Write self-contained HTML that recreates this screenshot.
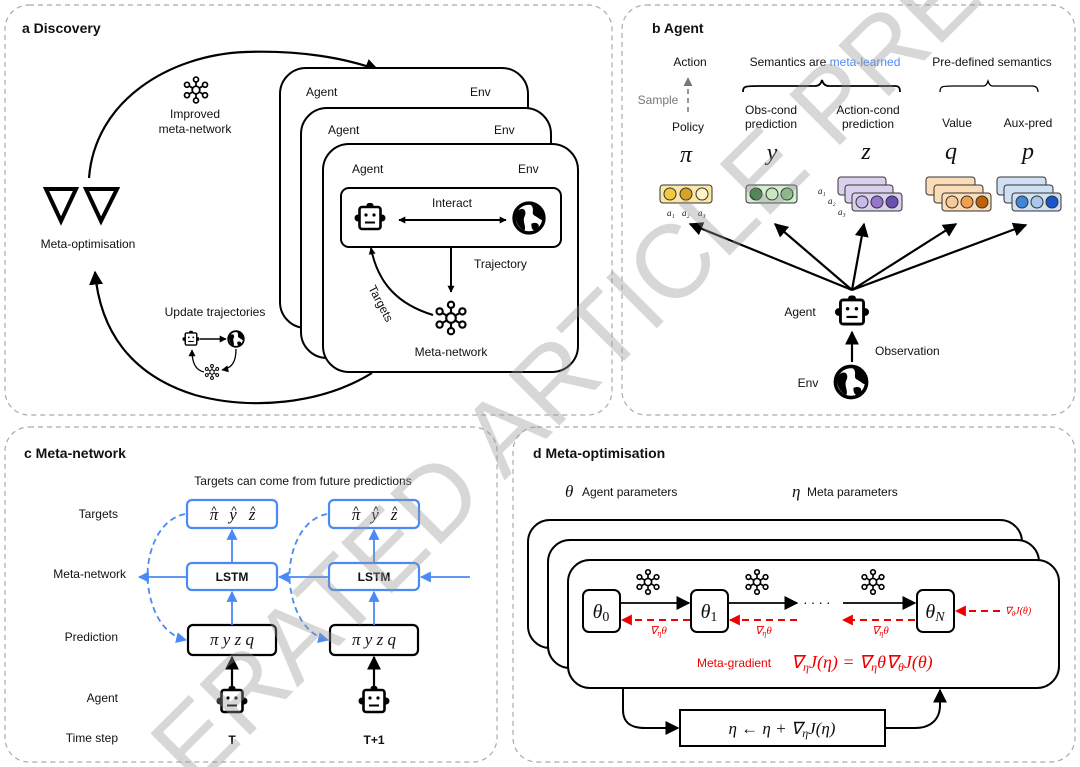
<!DOCTYPE html>
<html><head><meta charset="utf-8"><style>
html,body{margin:0;padding:0;background:#fff;width:1080px;height:767px;overflow:hidden;}
svg{display:block;overflow:hidden;}
text{font-family:"Liberation Sans",sans-serif;fill:#111;}
.m{font-family:"Liberation Serif",serif;font-style:italic;}
.lab{font-size:12px;}
.t{font-size:14px;font-weight:bold;}
</style></head><body>
<svg width="1080" height="767" viewBox="0 0 1080 767" xmlns="http://www.w3.org/2000/svg">
<defs>
<marker id="ab" viewBox="0 0 10 10" refX="9" refY="5" markerWidth="7" markerHeight="7" orient="auto-start-reverse" markerUnits="userSpaceOnUse"><path d="M0,0 L10,5 L0,10Z" fill="#000"/></marker>
<marker id="abL" viewBox="0 0 10 10" refX="9" refY="5" markerWidth="14" markerHeight="14" orient="auto-start-reverse" markerUnits="userSpaceOnUse"><path d="M0,0 L10,5 L0,10Z" fill="#000"/></marker>
<marker id="abu" viewBox="0 0 10 10" refX="9" refY="5" markerWidth="11" markerHeight="11" orient="auto" markerUnits="userSpaceOnUse"><path d="M0,0 L10,5 L0,10Z" fill="#4a8af4"/></marker>
<marker id="ar" viewBox="0 0 10 10" refX="9" refY="5" markerWidth="11" markerHeight="11" orient="auto" markerUnits="userSpaceOnUse"><path d="M0,0 L10,5 L0,10Z" fill="#e00"/></marker>
<marker id="ag" viewBox="0 0 10 10" refX="9" refY="5" markerWidth="9" markerHeight="9" orient="auto" markerUnits="userSpaceOnUse"><path d="M0,0 L10,5 L0,10Z" fill="#777"/></marker>
<g id="robot">
<circle cx="-12" cy="0" r="3.5" fill="#000"/><circle cx="12" cy="0" r="3.5" fill="#000"/>
<rect x="-3.5" y="-15" width="7" height="5" rx="2.5" fill="#000"/>
<rect x="-10.5" y="-11" width="21" height="22" rx="2.5" fill="#fff" stroke="#000" stroke-width="2.6"/>
<circle cx="-4" cy="-3" r="1.6" fill="#000"/><circle cx="4" cy="-3" r="1.6" fill="#000"/>
<line x1="-5" y1="4.5" x2="5" y2="4.5" stroke="#000" stroke-width="2"/>
</g>
<g id="globe">
<circle r="13" fill="#fff" stroke="#000" stroke-width="3"/>
<path d="M-11,-5 C-6,-11 -1,-7 -4,-1 C-6,3 -2,7 -4,11 C-10,8 -13,1 -11,-5Z" fill="#000"/>
<path d="M1,-12 C6,-8 1,-4 5,-2 C9,0 11,3 12,1 C13,-6 8,-11 1,-12Z" fill="#000"/>
<path d="M2,5 C6,3 10,5 8,9 C6,12 2,12 2,5Z" fill="#000"/>
</g>
<g id="mnet" fill="#fff" stroke="#000" stroke-width="1.8">
<line x1="0" y1="0" x2="0" y2="-11"/><line x1="0" y1="0" x2="9.5" y2="-5.5"/><line x1="0" y1="0" x2="9.5" y2="5.5"/><line x1="0" y1="0" x2="0" y2="11"/><line x1="0" y1="0" x2="-9.5" y2="5.5"/><line x1="0" y1="0" x2="-9.5" y2="-5.5"/>
<circle r="4"/><circle cx="0" cy="-11" r="2.6"/><circle cx="9.5" cy="-5.5" r="2.6"/><circle cx="9.5" cy="5.5" r="2.6"/><circle cx="0" cy="11" r="2.6"/><circle cx="-9.5" cy="5.5" r="2.6"/><circle cx="-9.5" cy="-5.5" r="2.6"/>
</g>
</defs>

<g fill="none" stroke="#aaa" stroke-width="1.2" stroke-dasharray="5,4">
<rect x="5" y="5" width="607" height="410" rx="24"/>
<rect x="622" y="5" width="453" height="410" rx="24"/>
<rect x="5" y="427" width="492" height="335" rx="24"/>
<rect x="513" y="427" width="562" height="335" rx="24"/>
</g>

<!-- ===== Panel a ===== -->
<text x="22" y="33" class="t">a  Discovery</text>
<path d="M89,178 C95,100 170,55 245,52 C300,50 345,58 378,70" fill="none" stroke="#000" stroke-width="2.2" marker-end="url(#abL)"/>
<path d="M372,373 C320,405 250,410 195,395 C130,375 100,330 95,272" fill="none" stroke="#000" stroke-width="2.2" marker-end="url(#abL)"/>
<g fill="#fff" stroke="#000" stroke-width="4" stroke-linejoin="miter">
<polygon points="46,189 76,189 61,221"/><polygon points="86,189 117,189 101,221"/>
</g>
<text x="88" y="248" class="lab" text-anchor="middle">Meta-optimisation</text>
<use href="#mnet" transform="translate(196,90) scale(0.95)"/>
<text x="195" y="118" class="lab" text-anchor="middle">Improved</text>
<text x="195" y="133" class="lab" text-anchor="middle">meta-network</text>
<text x="215" y="316" class="lab" text-anchor="middle">Update trajectories</text>
<use href="#robot" transform="translate(191,339) scale(0.55)"/>
<line x1="200" y1="339" x2="226" y2="339" stroke="#000" stroke-width="1.5" marker-end="url(#ab)"/>
<use href="#globe" transform="translate(236,339) scale(0.6)"/>
<use href="#mnet" transform="translate(212,372) scale(0.55)"/>
<path d="M204,372 C195,370 192,362 192,350" fill="none" stroke="#000" stroke-width="1.3" marker-end="url(#ab)"/>
<path d="M236,349 C236,362 232,368 222,370" fill="none" stroke="#000" stroke-width="1.3" marker-end="url(#ab)"/>

<g fill="#fff" stroke="#000" stroke-width="2">
<rect x="280" y="68" width="248" height="260" rx="26"/>
<rect x="301" y="108" width="250" height="250" rx="26"/>
<rect x="323" y="144" width="255" height="228" rx="26"/>
</g>
<text x="306" y="96" class="lab">Agent</text><text x="470" y="96" class="lab">Env</text>
<text x="328" y="134" class="lab">Agent</text><text x="494" y="134" class="lab">Env</text>
<text x="352" y="173" class="lab">Agent</text><text x="518" y="173" class="lab">Env</text>
<rect x="341" y="188" width="220" height="59" rx="8" fill="#fff" stroke="#000" stroke-width="2"/>
<use href="#robot" transform="translate(370,218)"/>
<use href="#globe" transform="translate(529,218) scale(1.15)"/>
<line x1="399" y1="220" x2="506" y2="220" stroke="#000" stroke-width="2" marker-start="url(#ab)" marker-end="url(#ab)"/>
<text x="452" y="207" class="lab" text-anchor="middle">Interact</text>
<line x1="451" y1="247" x2="451" y2="292" stroke="#000" stroke-width="2" marker-end="url(#ab)"/>
<text x="474" y="268" class="lab">Trajectory</text>
<use href="#mnet" transform="translate(451,318) scale(1.2)"/>
<path d="M433,315 C400,305 378,285 371,248" fill="none" stroke="#000" stroke-width="2" marker-end="url(#ab)"/>
<text transform="translate(368,288) rotate(62)" class="lab">Targets</text>
<text x="451" y="356" class="lab" text-anchor="middle">Meta-network</text>

<!-- ===== Panel b ===== -->
<text x="652" y="33" class="t">b  Agent</text>
<text x="690" y="66" class="lab" text-anchor="middle">Action</text>
<text x="825" y="66" class="lab" text-anchor="middle">Semantics are <tspan style="fill:#4a8af4">meta-learned</tspan></text>
<text x="992" y="66" class="lab" text-anchor="middle">Pre-defined semantics</text>
<path d="M743,92 C743,86 745,86 760,86 L815,86 C819,86 821,84 822,80 C823,84 825,86 829,86 L895,86 C899,86 900,88 900,92" fill="none" stroke="#000" stroke-width="1.8"/>
<path d="M940,92 C940,86 942,86 955,86 L983,86 C986,86 987,84 988,81 C989,84 990,86 993,86 L1032,86 C1036,86 1038,88 1038,92" fill="none" stroke="#000" stroke-width="1.3"/>
<line x1="688" y1="112" x2="688" y2="78" stroke="#777" stroke-width="1.5" stroke-dasharray="5,4" marker-end="url(#ag)"/>
<text x="658" y="104" class="lab" text-anchor="middle" style="fill:#777">Sample</text>
<text x="688" y="131" class="lab" text-anchor="middle">Policy</text>
<text x="771" y="114" class="lab" text-anchor="middle">Obs-cond</text><text x="771" y="128" class="lab" text-anchor="middle">prediction</text>
<text x="868" y="114" class="lab" text-anchor="middle">Action-cond</text><text x="868" y="128" class="lab" text-anchor="middle">prediction</text>
<text x="957" y="127" class="lab" text-anchor="middle">Value</text>
<text x="1028" y="127" class="lab" text-anchor="middle">Aux-pred</text>
<g font-size="24" text-anchor="middle">
<text x="686" y="162" class="m">π</text><text x="772" y="160" class="m">y</text><text x="866" y="159" class="m">z</text><text x="951" y="159" class="m">q</text><text x="1028" y="159" class="m">p</text>
</g>
<g stroke="#333" stroke-width="1">
<rect x="660" y="185" width="52" height="18" rx="3" fill="#fbe6a6"/>
<circle cx="670" cy="194" r="6" fill="#f5c842"/><circle cx="686" cy="194" r="6" fill="#d4a521"/><circle cx="702" cy="194" r="6" fill="#fff3c8"/>
<rect x="746" y="185" width="51" height="18" rx="3" fill="#d4ecd0"/>
<circle cx="756" cy="194" r="6" fill="#2e7d32"/><circle cx="772" cy="194" r="6" fill="#c8e6c0"/><circle cx="787" cy="194" r="6" fill="#8bc98a"/>
<rect x="838" y="177" width="48" height="18" rx="3" fill="#d9d0ee"/>
<rect x="845" y="185" width="48" height="18" rx="3" fill="#d9d0ee"/>
<rect x="852" y="193" width="50" height="18" rx="3" fill="#d9d0ee"/>
<circle cx="862" cy="202" r="6" fill="#c8b8ec"/><circle cx="877" cy="202" r="6" fill="#9575cd"/><circle cx="892" cy="202" r="6" fill="#6a4fb0"/>
<rect x="926" y="177" width="49" height="18" rx="3" fill="#fbdcb8"/>
<rect x="934" y="185" width="49" height="18" rx="3" fill="#fbdcb8"/>
<rect x="942" y="193" width="49" height="18" rx="3" fill="#fbdcb8"/>
<circle cx="952" cy="202" r="6" fill="#f8c898"/><circle cx="967" cy="202" r="6" fill="#f0a050"/><circle cx="982" cy="202" r="6" fill="#c0620a"/>
<rect x="997" y="177" width="49" height="18" rx="3" fill="#cfe0f5"/>
<rect x="1004" y="185" width="49" height="18" rx="3" fill="#cfe0f5"/>
<rect x="1012" y="193" width="49" height="18" rx="3" fill="#cfe0f5"/>
<circle cx="1022" cy="202" r="6" fill="#3f86d6"/><circle cx="1037" cy="202" r="6" fill="#a8c8ee"/><circle cx="1052" cy="202" r="6" fill="#1a56c9"/>
</g>
<text x="667" y="216" class="m" font-size="9">a₁</text><text x="682" y="216" class="m" font-size="9">a₂</text><text x="698" y="216" class="m" font-size="9">a₃</text>
<text x="818" y="194" class="m" font-size="9">a₁</text><text x="828" y="204" class="m" font-size="9">a₂</text><text x="838" y="215" class="m" font-size="9">a₃</text>
<g stroke="#000" stroke-width="2.2" marker-end="url(#abL)">
<line x1="852" y1="290" x2="690" y2="224"/>
<line x1="852" y1="290" x2="775" y2="224"/>
<line x1="852" y1="290" x2="864" y2="224"/>
<line x1="852" y1="290" x2="956" y2="224"/>
<line x1="852" y1="290" x2="1026" y2="225"/>
</g>
<use href="#robot" transform="translate(852,312) scale(1.1)"/>
<text x="800" y="316" class="lab" text-anchor="middle">Agent</text>
<line x1="852" y1="362" x2="852" y2="332" stroke="#000" stroke-width="2.2" marker-end="url(#abL)"/>
<text x="875" y="355" class="lab">Observation</text>
<use href="#globe" transform="translate(851,382) scale(1.2)"/>
<text x="808" y="387" class="lab" text-anchor="middle">Env</text>

<!-- ===== Panel c ===== -->
<text x="24" y="458" class="t">c  Meta-network</text>
<text x="303" y="485" class="lab" text-anchor="middle">Targets can come from future predictions</text>
<g text-anchor="end">
<text x="118" y="518" class="lab">Targets</text>
<text x="126" y="578" class="lab">Meta-network</text>
<text x="118" y="641" class="lab">Prediction</text>
<text x="118" y="702" class="lab">Agent</text>
<text x="118" y="742" class="lab">Time step</text>
</g>
<g fill="#fff" stroke="#4a8af4" stroke-width="2.2">
<rect x="187" y="500" width="90" height="28" rx="5"/><rect x="329" y="500" width="90" height="28" rx="5"/>
<rect x="187" y="563" width="90" height="27" rx="5"/><rect x="329" y="563" width="90" height="27" rx="5"/>
</g>
<g fill="#fff" stroke="#000" stroke-width="2.2">
<rect x="188" y="625" width="88" height="30" rx="5"/><rect x="330" y="625" width="88" height="30" rx="5"/>
</g>
<g font-size="17" text-anchor="middle">
<text x="214" y="520" class="m">π</text><text x="233" y="520" class="m">y</text><text x="252" y="520" class="m">z</text>
<text x="356" y="520" class="m">π</text><text x="375" y="520" class="m">y</text><text x="394" y="520" class="m">z</text>
<text x="232" y="645" class="m">π  y  z  q</text><text x="374" y="645" class="m">π  y  z  q</text>
</g>
<g font-size="11" text-anchor="middle" font-family="Liberation Serif">
<text x="214" y="514">^</text><text x="234" y="514">^</text><text x="253" y="514">^</text>
<text x="356" y="514">^</text><text x="376" y="514">^</text><text x="395" y="514">^</text>
</g>
<text x="232" y="581" class="lab" text-anchor="middle" font-weight="bold">LSTM</text>
<text x="374" y="581" class="lab" text-anchor="middle" font-weight="bold">LSTM</text>
<g stroke="#4a8af4" stroke-width="1.8" marker-end="url(#abu)">
<line x1="232" y1="563" x2="232" y2="530"/><line x1="374" y1="563" x2="374" y2="530"/>
<line x1="232" y1="625" x2="232" y2="592"/><line x1="374" y1="625" x2="374" y2="592"/>
<line x1="187" y1="577" x2="139" y2="577"/><line x1="329" y1="577" x2="279" y2="577"/><line x1="470" y1="577" x2="421" y2="577"/>
</g>
<g fill="none" stroke="#4a8af4" stroke-width="1.8" stroke-dasharray="6,4" marker-end="url(#abu)">
<path d="M185,514 C155,520 145,560 148,585 C152,615 165,635 186,640"/>
<path d="M327,514 C297,520 287,560 290,585 C294,615 307,635 328,640"/>
</g>
<line x1="232" y1="688" x2="232" y2="657" stroke="#000" stroke-width="2.2" marker-end="url(#abL)"/>
<line x1="374" y1="688" x2="374" y2="657" stroke="#000" stroke-width="2.2" marker-end="url(#abL)"/>
<use href="#robot" transform="translate(232,701)"/><use href="#robot" transform="translate(374,701)"/>
<text x="232" y="744" class="lab" text-anchor="middle" font-weight="bold">T</text>
<text x="374" y="744" class="lab" text-anchor="middle" font-weight="bold">T+1</text>

<!-- ===== Panel d ===== -->
<text x="533" y="458" class="t">d  Meta-optimisation</text>
<text x="565" y="497" class="m" font-size="17">θ</text><text x="582" y="496" class="lab">Agent parameters</text>
<text x="792" y="497" class="m" font-size="17">η</text><text x="807" y="496" class="lab">Meta parameters</text>
<g fill="#fff" stroke="#000" stroke-width="2">
<rect x="528" y="520" width="494" height="128" rx="22"/>
<rect x="548" y="540" width="491" height="128" rx="22"/>
<rect x="568" y="560" width="491" height="128" rx="22"/>
</g>
<g fill="#fff" stroke="#000" stroke-width="2">
<rect x="583" y="590" width="37" height="42" rx="6"/><rect x="691" y="590" width="37" height="42" rx="6"/><rect x="917" y="590" width="37" height="42" rx="6"/>
</g>
<text x="601" y="618" class="m" font-size="20" text-anchor="middle">θ<tspan font-size="14" font-style="normal" dy="3">0</tspan></text>
<text x="709" y="618" class="m" font-size="20" text-anchor="middle">θ<tspan font-size="14" font-style="normal" dy="3">1</tspan></text>
<text x="935" y="618" class="m" font-size="20" text-anchor="middle">θ<tspan font-size="14" dy="3">N</tspan></text>
<use href="#mnet" transform="translate(648,582) scale(0.9)"/>
<use href="#mnet" transform="translate(757,582) scale(0.9)"/>
<use href="#mnet" transform="translate(873,582) scale(0.9)"/>
<g stroke="#000" stroke-width="1.8" marker-end="url(#abL)">
<line x1="620" y1="603" x2="689" y2="603"/><line x1="728" y1="603" x2="797" y2="603"/><line x1="843" y1="603" x2="915" y2="603"/>
</g>
<text x="803" y="607" font-size="14" letter-spacing="3">····</text>
<g stroke="#e00" stroke-width="2" stroke-dasharray="7,5" marker-end="url(#ar)">
<line x1="690" y1="620" x2="622" y2="620"/><line x1="797" y1="620" x2="730" y2="620"/><line x1="915" y1="620" x2="843" y2="620"/><line x1="1000" y1="611" x2="956" y2="611"/>
</g>
<text x="650" y="634" class="m" style="fill:#e00" font-size="11">∇<tspan font-size="8" dy="2">η</tspan><tspan dy="-2">θ</tspan></text>
<text x="755" y="634" class="m" style="fill:#e00" font-size="11">∇<tspan font-size="8" dy="2">η</tspan><tspan dy="-2">θ</tspan></text>
<text x="872" y="634" class="m" style="fill:#e00" font-size="11">∇<tspan font-size="8" dy="2">η</tspan><tspan dy="-2">θ</tspan></text>
<text x="1005" y="614" class="m" style="fill:#e00" font-size="10">∇<tspan font-size="7" dy="2">θ</tspan><tspan dy="-2">J(θ)</tspan></text>
<text x="697" y="667" class="lab" style="fill:#e00">Meta-gradient</text>
<text x="791" y="668" class="m" style="fill:#e00" font-size="18">∇<tspan font-size="12" dy="3">η</tspan><tspan dy="-3">J(η) = ∇</tspan><tspan font-size="12" dy="3">η</tspan><tspan dy="-3">θ∇</tspan><tspan font-size="12" dy="3">θ</tspan><tspan dy="-3">J(θ)</tspan></text>
<rect x="680" y="710" width="205" height="36" fill="#fff" stroke="#000" stroke-width="2"/>
<text x="782" y="734" class="m" font-size="17" text-anchor="middle">η ← η + ∇<tspan font-size="12" dy="3">η</tspan><tspan dy="-3">J(η)</tspan></text>
<path d="M623,688 L623,710 C623,722 630,728 645,728 L678,728" fill="none" stroke="#000" stroke-width="2" marker-end="url(#abL)"/>
<path d="M885,728 L915,728 C930,728 940,720 940,705 L940,690" fill="none" stroke="#000" stroke-width="2" marker-end="url(#abL)"/>

<!-- watermark -->
<text transform="translate(195,790) rotate(-45)" font-size="104" style="fill:rgba(150,150,150,0.38)" font-family="Liberation Sans">ERATED ARTICLE PREVIEW</text>
</svg>
</body></html>
